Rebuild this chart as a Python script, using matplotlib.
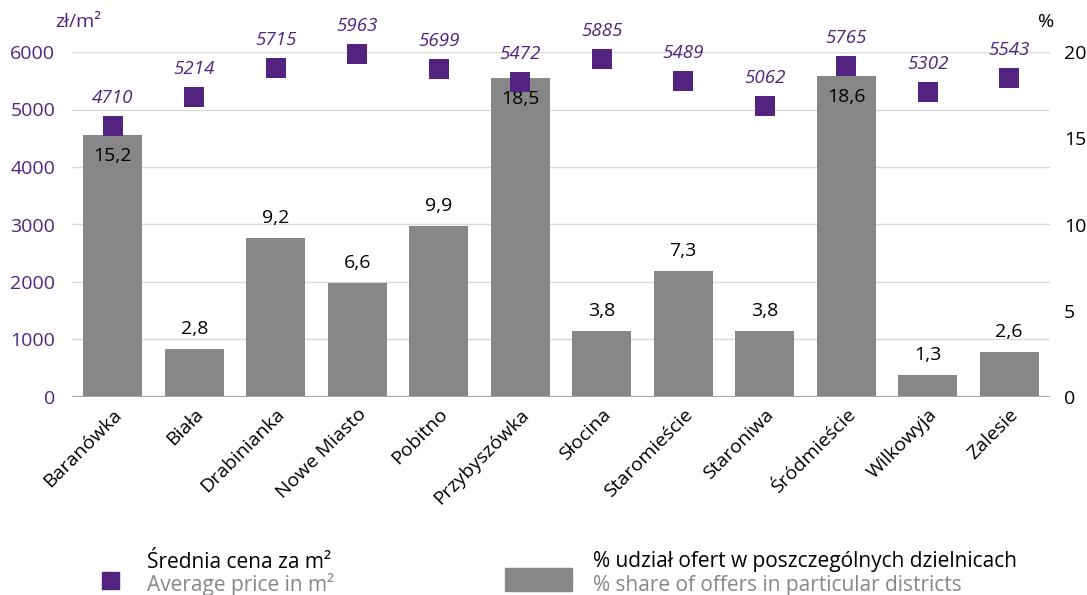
import matplotlib
matplotlib.use("Agg")
import matplotlib.pyplot as plt
import numpy as np

districts = ["Baranówka", "Biała", "Drabinianka", "Nowe Miasto", "Pobitno",
             "Przybyszówka", "Słocina", "Staromieście", "Staroniwa",
             "Śródmieście", "Wilkowyja", "Zalesie"]
share = [15.2, 2.8, 9.2, 6.6, 9.9, 18.5, 3.8, 7.3, 3.8, 18.6, 1.3, 2.6]
price = [4710, 5214, 5715, 5963, 5699, 5472, 5885, 5489, 5062, 5765, 5302, 5543]

PURPLE = "#52237f"
GRAY = "#878787"

plt.rcParams['font.family'] = ['Open Sans', 'DejaVu Sans']

fig = plt.figure(figsize=(10.87, 5.95), dpi=100)
ax = fig.add_axes([72 / 1087, 1 - 397 / 595, 978 / 1087, 345 / 595])
ax2 = ax.twinx()

x = np.arange(len(districts))
ax2.bar(x, share, width=0.72, color=GRAY, zorder=2)
ax2.set_ylim(0, 20)
ax.set_ylim(0, 6000)
ax.set_xlim(-0.5, len(districts) - 0.5)

# etykiety słupków
for xi, s in zip(x, share):
    lbl = f"{s:.1f}".replace(".", ",")
    off = -21 if s > 12 else 20
    ax2.annotate(lbl, (xi, s), xytext=(0, off), textcoords="offset pixels",
                 ha="center", va="center", fontsize=14, color="black", zorder=5)

# ceny - kwadraty na wierzchu
ax.set_zorder(ax2.get_zorder() + 1)
ax.patch.set_visible(False)
ax.scatter(x, price, marker="s", s=200, color=PURPLE, zorder=6, linewidths=0,
           clip_on=False)
for xi, p in zip(x, price):
    ax.annotate(str(p), (xi, p), xytext=(0, 28), textcoords="offset pixels",
                ha="center", va="center", fontsize=13.5, color=PURPLE,
                style="italic", zorder=6, annotation_clip=False)

ax2.set_yticks([0, 5, 10, 15, 20])
for v in [1000, 2000, 3000, 4000, 5000, 6000]:
    ax2.axhline(v / 300, color="#d9d9d9", lw=1, zorder=0)
ax2.axhline(0, color="#a6a6a6", lw=1.5, zorder=3)

ax.set_yticks([0, 1000, 2000, 3000, 4000, 5000, 6000])
ax.tick_params(axis="y", colors=PURPLE, labelsize=14, length=0, pad=12)
ax2.tick_params(axis="y", colors="black", labelsize=14, length=0, pad=10)
ax.set_xticks(x)
ax.set_xticklabels(districts, rotation=45, ha="right", rotation_mode="anchor",
                   fontsize=14)
ax.tick_params(axis="x", length=0, pad=6)
for a in (ax, ax2):
    for sp in a.spines.values():
        sp.set_visible(False)

fig.text(55 / 1087, 1 - 22 / 595, "zł/m²", color=PURPLE, fontsize=14,
         ha="left", va="center")
fig.text(1038 / 1087, 1 - 22 / 595, "%", color="black", fontsize=14,
         ha="left", va="center")

# legenda
fig.patches.append(plt.Rectangle((102 / 1087, 1 - 589 / 595), 17 / 1087, 17 / 595,
                                 transform=fig.transFigure, color=PURPLE))
fig.text(147 / 1087, 1 - 562 / 595, "Średnia cena za m²", fontsize=15,
         color="black", va="center")
fig.text(147 / 1087, 1 - 585 / 595, "Average price in m²", fontsize=15,
         color=GRAY, va="center")
fig.patches.append(plt.Rectangle((505 / 1087, 1 - 591 / 595), 67 / 1087, 23 / 595,
                                 transform=fig.transFigure, color=GRAY))
fig.text(593 / 1087, 1 - 562 / 595, "% udział ofert w poszczególnych dzielnicach",
         fontsize=15, color="black", va="center")
fig.text(593 / 1087, 1 - 585 / 595, "% share of offers in particular districts",
         fontsize=15, color=GRAY, va="center")

fig.savefig("out.png", dpi=100)
